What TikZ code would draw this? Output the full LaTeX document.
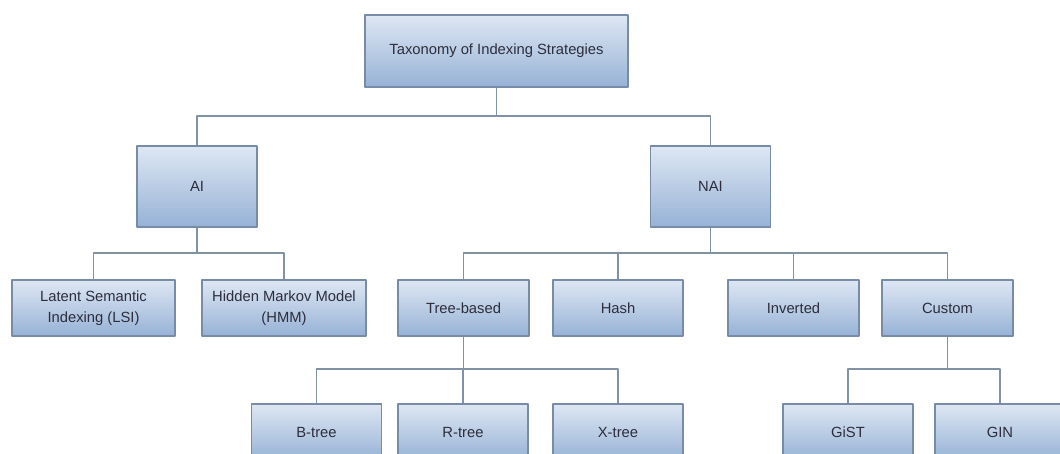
\documentclass[tikz,border=0pt]{standalone}
\usepackage{fontspec}
\setmainfont{Liberation Sans}
\definecolor{boxtop}{RGB}{222,231,243}
\definecolor{boxbot}{RGB}{150,178,214}
\definecolor{boxline}{RGB}{120,140,170}
\definecolor{linkline}{RGB}{128,146,164}
\definecolor{txt}{RGB}{45,45,60}
\begin{document}
\begin{tikzpicture}[x=0.025cm, y=-0.025cm, line join=round,
    taxbox/.style={draw=boxline, line width=0.8pt, top color=boxtop, bottom color=boxbot,
      text=txt, align=center, inner sep=0pt, font=\fontsize{10.5}{14.5}\selectfont},
    topbox/.style={taxbox, minimum width=6.575cm, minimum height=1.8cm},
    midbox/.style={taxbox, minimum width=3cm, minimum height=2.025cm},
    leafbox/.style={taxbox, minimum width=3.25cm, minimum height=1.4cm},
    link/.style={draw=linkline, line width=1.05pt}]
  \useasboundingbox (0,0) rectangle (1060,454);
  \clip (0,0) rectangle (1060,454);
  % bars of the elbow connectors
  \path
  (0,116) coordinate (bar0)
  (0,253) coordinate (bar1)
  (0,369) coordinate (bar2)
  ;
  % boxes
  \node[topbox] (root) at (496.5,51) {Taxonomy of Indexing Strategies};
  \node[midbox] (ai) at (197,186.5) {AI};
  \node[midbox] (nai) at (710.5,186.5) {NAI};
  \node[leafbox, minimum width=4.075cm] (lsi) at (93.5,308) {Latent Semantic\\Indexing (LSI)};
  \node[leafbox, minimum width=4.1cm] (hmm) at (284,308) {Hidden Markov Model\\(HMM)};
  \node[leafbox, minimum width=3.275cm] (tree) at (463.5,308) {Tree-based};
  \node[leafbox] (hash) at (618,308) {Hash};
  \node[leafbox, minimum width=3.275cm] (inv) at (793.5,308) {Inverted};
  \node[leafbox, minimum width=3.275cm] (cust) at (947.5,308) {Custom};
  \node[leafbox] (btree) at (316.5,432) {B-tree};
  \node[leafbox] (rtree) at (463,432) {R-tree};
  \node[leafbox] (xtree) at (618,432) {X-tree};
  \node[leafbox] (gist) at (848,432) {GiST};
  \node[leafbox] (gin) at (1000,432) {GIN};
  % connectors
  \foreach \c in {ai,nai}
    \draw[link] (root.south) -- (root.south |- bar0) -| (\c.north);
  \foreach \c in {lsi,hmm}
    \draw[link] (ai.south) -- (ai.south |- bar1) -| (\c.north);
  \foreach \c in {tree,hash,inv,cust}
    \draw[link] (nai.south) -- (nai.south |- bar1) -| (\c.north);
  \foreach \c in {btree,rtree,xtree}
    \draw[link] (tree.south) -- (tree.south |- bar2) -| (\c.north);
  \foreach \c in {gist,gin}
    \draw[link] (cust.south) -- (cust.south |- bar2) -| (\c.north);
\end{tikzpicture}
\end{document}
